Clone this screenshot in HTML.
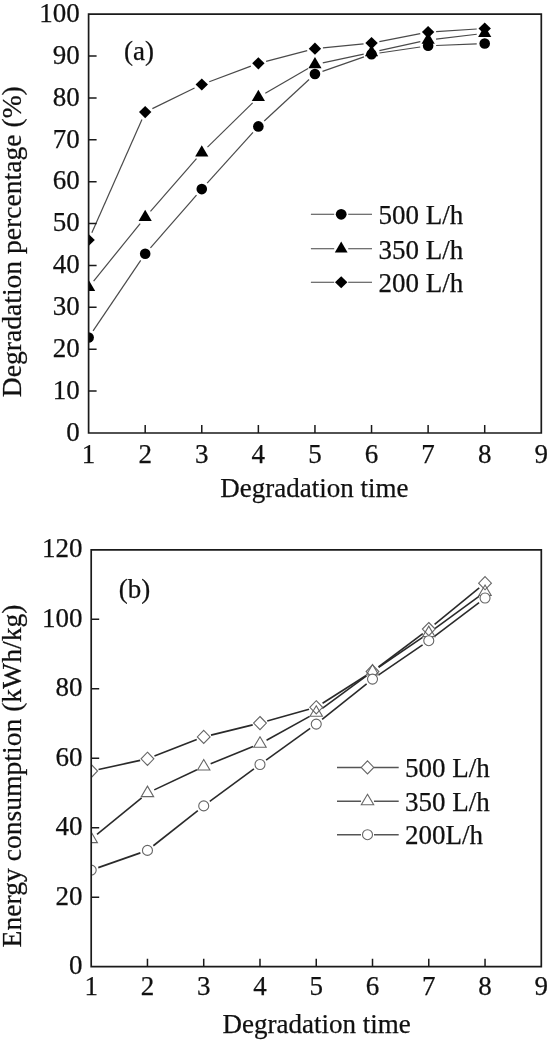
<!DOCTYPE html>
<html><head><meta charset="utf-8"><style>
html,body{margin:0;padding:0;background:#fff;}
body{width:550px;height:1040px;overflow:hidden;}
svg{display:block;filter:blur(0.4px);font-family:"Liberation Serif", serif;font-size:27px;fill:#111;}
svg text{fill:#111;stroke:#111;stroke-width:0.25px;}
</style></head><body>
<svg width="550" height="1040" viewBox="0 0 550 1040">
<defs><clipPath id="ca"><rect x="88.6" y="14.2" width="452.69999999999993" height="418.8"/></clipPath>
<clipPath id="cb"><rect x="91.2" y="549.8" width="450.09999999999997" height="416.9000000000001"/></clipPath></defs>
<g clip-path="url(#ca)">
<line x1="93.08" y1="330.87" x2="140.71" y2="260.43" stroke="#4a4a4a" stroke-width="1.2"/>
<line x1="150.45" y1="247.78" x2="196.51" y2="195.12" stroke="#4a4a4a" stroke-width="1.2"/>
<line x1="207.13" y1="183.16" x2="253.00" y2="132.34" stroke="#4a4a4a" stroke-width="1.2"/>
<line x1="264.23" y1="120.96" x2="309.08" y2="79.44" stroke="#4a4a4a" stroke-width="1.2"/>
<line x1="322.50" y1="71.36" x2="363.99" y2="56.84" stroke="#4a4a4a" stroke-width="1.2"/>
<line x1="379.45" y1="53.03" x2="420.21" y2="46.97" stroke="#4a4a4a" stroke-width="1.2"/>
<line x1="436.12" y1="45.48" x2="476.72" y2="43.82" stroke="#4a4a4a" stroke-width="1.2"/>
<line x1="93.63" y1="281.08" x2="140.16" y2="223.52" stroke="#4a4a4a" stroke-width="1.2"/>
<line x1="150.46" y1="211.28" x2="196.50" y2="158.72" stroke="#4a4a4a" stroke-width="1.2"/>
<line x1="207.49" y1="147.10" x2="252.65" y2="102.90" stroke="#4a4a4a" stroke-width="1.2"/>
<line x1="265.28" y1="93.29" x2="308.03" y2="68.51" stroke="#4a4a4a" stroke-width="1.2"/>
<line x1="322.77" y1="62.83" x2="363.71" y2="54.07" stroke="#4a4a4a" stroke-width="1.2"/>
<line x1="379.35" y1="50.69" x2="420.31" y2="41.71" stroke="#4a4a4a" stroke-width="1.2"/>
<line x1="436.07" y1="39.06" x2="476.77" y2="34.24" stroke="#4a4a4a" stroke-width="1.2"/>
<line x1="91.84" y1="232.68" x2="141.95" y2="119.42" stroke="#4a4a4a" stroke-width="1.2"/>
<line x1="152.38" y1="108.59" x2="194.58" y2="88.01" stroke="#4a4a4a" stroke-width="1.2"/>
<line x1="209.27" y1="81.69" x2="250.87" y2="66.11" stroke="#4a4a4a" stroke-width="1.2"/>
<line x1="266.11" y1="61.30" x2="307.20" y2="50.70" stroke="#4a4a4a" stroke-width="1.2"/>
<line x1="322.91" y1="47.91" x2="363.58" y2="43.89" stroke="#4a4a4a" stroke-width="1.2"/>
<line x1="379.39" y1="41.57" x2="420.27" y2="33.63" stroke="#4a4a4a" stroke-width="1.2"/>
<line x1="436.11" y1="31.59" x2="476.73" y2="29.01" stroke="#4a4a4a" stroke-width="1.2"/>
<circle cx="88.60" cy="337.50" r="5.3" fill="#000"/>
<circle cx="145.19" cy="253.80" r="5.3" fill="#000"/>
<circle cx="201.77" cy="189.10" r="5.3" fill="#000"/>
<circle cx="258.36" cy="126.40" r="5.3" fill="#000"/>
<circle cx="314.95" cy="74.00" r="5.3" fill="#000"/>
<circle cx="371.54" cy="54.20" r="5.3" fill="#000"/>
<circle cx="428.12" cy="45.80" r="5.3" fill="#000"/>
<circle cx="484.71" cy="43.50" r="5.3" fill="#000"/>
<path d="M88.60 279.77L95.20 291.07L82.00 291.07Z" fill="#000"/>
<path d="M145.19 209.77L151.79 221.07L138.59 221.07Z" fill="#000"/>
<path d="M201.77 145.17L208.37 156.47L195.17 156.47Z" fill="#000"/>
<path d="M258.36 89.77L264.96 101.07L251.76 101.07Z" fill="#000"/>
<path d="M314.95 56.97L321.55 68.27L308.35 68.27Z" fill="#000"/>
<path d="M371.54 44.87L378.14 56.17L364.94 56.17Z" fill="#000"/>
<path d="M428.12 32.47L434.73 43.77L421.52 43.77Z" fill="#000"/>
<path d="M484.71 25.77L491.31 37.07L478.11 37.07Z" fill="#000"/>
<path d="M88.60 233.90L94.80 240.00L88.60 246.10L82.40 240.00Z" fill="#000"/>
<path d="M145.19 106.00L151.39 112.10L145.19 118.20L138.99 112.10Z" fill="#000"/>
<path d="M201.77 78.40L207.97 84.50L201.77 90.60L195.57 84.50Z" fill="#000"/>
<path d="M258.36 57.20L264.56 63.30L258.36 69.40L252.16 63.30Z" fill="#000"/>
<path d="M314.95 42.60L321.15 48.70L314.95 54.80L308.75 48.70Z" fill="#000"/>
<path d="M371.54 37.00L377.74 43.10L371.54 49.20L365.34 43.10Z" fill="#000"/>
<path d="M428.12 26.00L434.32 32.10L428.12 38.20L421.93 32.10Z" fill="#000"/>
<path d="M484.71 22.40L490.91 28.50L484.71 34.60L478.51 28.50Z" fill="#000"/>
</g>
<path d="M88.6 14.2H541.3V433.0H88.6Z" fill="none" stroke="#1a1a1a" stroke-width="1.7"/>
<path d="M88.6 391.12h8 M88.6 349.24h8 M88.6 307.36h8 M88.6 265.48h8 M88.6 223.60h8 M88.6 181.72h8 M88.6 139.84h8 M88.6 97.96h8 M88.6 56.08h8 M145.19 433.0v-8 M201.77 433.0v-8 M258.36 433.0v-8 M314.95 433.0v-8 M371.54 433.0v-8 M428.12 433.0v-8 M484.71 433.0v-8" stroke="#1a1a1a" stroke-width="1.5" fill="none"/>
<text x="79.70" y="440.70" text-anchor="end">0</text>
<text x="79.70" y="398.82" text-anchor="end">10</text>
<text x="79.70" y="356.94" text-anchor="end">20</text>
<text x="79.70" y="315.06" text-anchor="end">30</text>
<text x="79.70" y="273.18" text-anchor="end">40</text>
<text x="79.70" y="231.30" text-anchor="end">50</text>
<text x="79.70" y="189.42" text-anchor="end">60</text>
<text x="79.70" y="147.54" text-anchor="end">70</text>
<text x="79.70" y="105.66" text-anchor="end">80</text>
<text x="79.70" y="63.78" text-anchor="end">90</text>
<text x="79.70" y="21.90" text-anchor="end">100</text>
<text x="88.60" y="462.80" text-anchor="middle">1</text>
<text x="145.19" y="462.80" text-anchor="middle">2</text>
<text x="201.77" y="462.80" text-anchor="middle">3</text>
<text x="258.36" y="462.80" text-anchor="middle">4</text>
<text x="314.95" y="462.80" text-anchor="middle">5</text>
<text x="371.54" y="462.80" text-anchor="middle">6</text>
<text x="428.12" y="462.80" text-anchor="middle">7</text>
<text x="484.71" y="462.80" text-anchor="middle">8</text>
<text x="541.30" y="462.80" text-anchor="middle">9</text>
<text x="314.30" y="497.00" text-anchor="middle">Degradation time</text>
<text x="139.00" y="59.70" text-anchor="middle">(a)</text>
<text transform="translate(20.7 241.7) rotate(-90)" text-anchor="middle" font-size="27.6">Degradation percentage (%)</text>
<path d="M310.9 214.3H334.2M348.2 214.3H372" stroke="#444" stroke-width="1.1"/>
<circle cx="341.20" cy="214.30" r="5.4" fill="#000"/>
<text x="378.50" y="224.00" text-anchor="start">500 L/h</text>
<path d="M310.9 248.8H334.2M348.2 248.8H372" stroke="#444" stroke-width="1.1"/>
<path d="M341.20 241.47L347.60 252.47L334.80 252.47Z" fill="#000"/>
<text x="378.50" y="258.50" text-anchor="start">350 L/h</text>
<path d="M310.9 282.3H334.2M348.2 282.3H372" stroke="#444" stroke-width="1.1"/>
<path d="M341.20 276.30L347.40 282.30L341.20 288.30L335.00 282.30Z" fill="#000"/>
<text x="378.50" y="292.00" text-anchor="start">200 L/h</text>
<g clip-path="url(#cb)">
<line x1="98.53" y1="769.41" x2="140.13" y2="760.39" stroke="#2a2a2a" stroke-width="1.6"/>
<line x1="154.45" y1="756.08" x2="196.74" y2="739.62" stroke="#2a2a2a" stroke-width="1.6"/>
<line x1="211.01" y1="735.11" x2="252.70" y2="724.89" stroke="#2a2a2a" stroke-width="1.6"/>
<line x1="267.21" y1="721.07" x2="309.03" y2="709.33" stroke="#2a2a2a" stroke-width="1.6"/>
<line x1="322.58" y1="703.27" x2="366.18" y2="675.53" stroke="#2a2a2a" stroke-width="1.6"/>
<line x1="378.50" y1="666.99" x2="422.79" y2="633.61" stroke="#2a2a2a" stroke-width="1.6"/>
<line x1="434.59" y1="624.36" x2="479.23" y2="587.94" stroke="#2a2a2a" stroke-width="1.6"/>
<line x1="97.01" y1="834.35" x2="141.66" y2="797.85" stroke="#2a2a2a" stroke-width="1.6"/>
<line x1="154.24" y1="789.89" x2="196.94" y2="769.71" stroke="#2a2a2a" stroke-width="1.6"/>
<line x1="210.68" y1="763.69" x2="253.03" y2="746.61" stroke="#2a2a2a" stroke-width="1.6"/>
<line x1="266.56" y1="740.18" x2="309.68" y2="716.42" stroke="#2a2a2a" stroke-width="1.6"/>
<line x1="322.30" y1="708.36" x2="366.47" y2="675.94" stroke="#2a2a2a" stroke-width="1.6"/>
<line x1="378.71" y1="667.27" x2="422.58" y2="637.33" stroke="#2a2a2a" stroke-width="1.6"/>
<line x1="434.83" y1="628.68" x2="478.98" y2="596.42" stroke="#2a2a2a" stroke-width="1.6"/>
<line x1="98.28" y1="867.62" x2="140.38" y2="852.88" stroke="#2a2a2a" stroke-width="1.6"/>
<line x1="153.34" y1="845.75" x2="197.84" y2="810.55" stroke="#2a2a2a" stroke-width="1.6"/>
<line x1="209.77" y1="801.45" x2="253.95" y2="768.95" stroke="#2a2a2a" stroke-width="1.6"/>
<line x1="266.08" y1="760.13" x2="310.16" y2="728.47" stroke="#2a2a2a" stroke-width="1.6"/>
<line x1="322.11" y1="719.42" x2="366.66" y2="683.78" stroke="#2a2a2a" stroke-width="1.6"/>
<line x1="378.71" y1="674.87" x2="422.58" y2="644.93" stroke="#2a2a2a" stroke-width="1.6"/>
<line x1="434.75" y1="636.17" x2="479.06" y2="602.53" stroke="#2a2a2a" stroke-width="1.6"/>
<path d="M91.20 764.40L97.60 771.00L91.20 777.60L84.80 771.00Z" fill="none" stroke="#666" stroke-width="1.1"/>
<path d="M147.46 752.20L153.86 758.80L147.46 765.40L141.06 758.80Z" fill="none" stroke="#666" stroke-width="1.1"/>
<path d="M203.72 730.30L210.12 736.90L203.72 743.50L197.32 736.90Z" fill="none" stroke="#666" stroke-width="1.1"/>
<path d="M259.99 716.50L266.39 723.10L259.99 729.70L253.59 723.10Z" fill="none" stroke="#666" stroke-width="1.1"/>
<path d="M316.25 700.70L322.65 707.30L316.25 713.90L309.85 707.30Z" fill="none" stroke="#666" stroke-width="1.1"/>
<path d="M372.51 664.90L378.91 671.50L372.51 678.10L366.11 671.50Z" fill="none" stroke="#666" stroke-width="1.1"/>
<path d="M428.77 622.50L435.17 629.10L428.77 635.70L422.38 629.10Z" fill="none" stroke="#666" stroke-width="1.1"/>
<path d="M485.04 576.60L491.44 583.20L485.04 589.80L478.64 583.20Z" fill="none" stroke="#666" stroke-width="1.1"/>
<path d="M91.20 832.10L97.40 842.60L85.00 842.60Z" fill="none" stroke="#666" stroke-width="1.1"/>
<path d="M147.46 786.10L153.66 796.60L141.26 796.60Z" fill="none" stroke="#666" stroke-width="1.1"/>
<path d="M203.72 759.50L209.92 770.00L197.53 770.00Z" fill="none" stroke="#666" stroke-width="1.1"/>
<path d="M259.99 736.80L266.19 747.30L253.79 747.30Z" fill="none" stroke="#666" stroke-width="1.1"/>
<path d="M316.25 705.80L322.45 716.30L310.05 716.30Z" fill="none" stroke="#666" stroke-width="1.1"/>
<path d="M372.51 664.50L378.71 675.00L366.31 675.00Z" fill="none" stroke="#666" stroke-width="1.1"/>
<path d="M428.77 626.10L434.97 636.60L422.57 636.60Z" fill="none" stroke="#666" stroke-width="1.1"/>
<path d="M485.04 585.00L491.24 595.50L478.84 595.50Z" fill="none" stroke="#666" stroke-width="1.1"/>
<circle cx="91.20" cy="870.10" r="5.0" fill="#fff" stroke="#666" stroke-width="1.1"/>
<circle cx="147.46" cy="850.40" r="5.0" fill="#fff" stroke="#666" stroke-width="1.1"/>
<circle cx="203.72" cy="805.90" r="5.0" fill="#fff" stroke="#666" stroke-width="1.1"/>
<circle cx="259.99" cy="764.50" r="5.0" fill="#fff" stroke="#666" stroke-width="1.1"/>
<circle cx="316.25" cy="724.10" r="5.0" fill="#fff" stroke="#666" stroke-width="1.1"/>
<circle cx="372.51" cy="679.10" r="5.0" fill="#fff" stroke="#666" stroke-width="1.1"/>
<circle cx="428.77" cy="640.70" r="5.0" fill="#fff" stroke="#666" stroke-width="1.1"/>
<circle cx="485.04" cy="598.00" r="5.0" fill="#fff" stroke="#666" stroke-width="1.1"/>
</g>
<path d="M91.2 549.8H541.3V966.7H91.2Z" fill="none" stroke="#1a1a1a" stroke-width="1.7"/>
<path d="M91.2 897.22h8 M91.2 827.73h8 M91.2 758.25h8 M91.2 688.77h8 M91.2 619.28h8 M147.46 966.7v-8 M203.72 966.7v-8 M259.99 966.7v-8 M316.25 966.7v-8 M372.51 966.7v-8 M428.77 966.7v-8 M485.04 966.7v-8" stroke="#1a1a1a" stroke-width="1.5" fill="none"/>
<text x="82.40" y="974.20" text-anchor="end">0</text>
<text x="82.40" y="904.72" text-anchor="end">20</text>
<text x="82.40" y="835.23" text-anchor="end">40</text>
<text x="82.40" y="765.75" text-anchor="end">60</text>
<text x="82.40" y="696.27" text-anchor="end">80</text>
<text x="82.40" y="626.78" text-anchor="end">100</text>
<text x="82.40" y="557.30" text-anchor="end">120</text>
<text x="91.20" y="995.30" text-anchor="middle">1</text>
<text x="147.46" y="995.30" text-anchor="middle">2</text>
<text x="203.72" y="995.30" text-anchor="middle">3</text>
<text x="259.99" y="995.30" text-anchor="middle">4</text>
<text x="316.25" y="995.30" text-anchor="middle">5</text>
<text x="372.51" y="995.30" text-anchor="middle">6</text>
<text x="428.77" y="995.30" text-anchor="middle">7</text>
<text x="485.04" y="995.30" text-anchor="middle">8</text>
<text x="541.30" y="995.30" text-anchor="middle">9</text>
<text x="316.60" y="1033.30" text-anchor="middle">Degradation time</text>
<text x="134.50" y="598.30" text-anchor="middle">(b)</text>
<text transform="translate(20.7 776) rotate(-90)" text-anchor="middle" font-size="27.6">Energy consumption (kWh/kg)</text>
<path d="M337 767.4H361.0M374.0 767.4H398.7" stroke="#555" stroke-width="1.5"/>
<path d="M367.50 760.90L373.80 767.40L367.50 773.90L361.20 767.40Z" fill="none" stroke="#666" stroke-width="1.1"/>
<text x="405.00" y="776.90" text-anchor="start">500 L/h</text>
<path d="M337 801.3H361.0M374.0 801.3H398.7" stroke="#555" stroke-width="1.5"/>
<path d="M367.50 794.30L373.70 804.80L361.30 804.80Z" fill="none" stroke="#666" stroke-width="1.1"/>
<text x="405.00" y="810.80" text-anchor="start">350 L/h</text>
<path d="M337 834.7H361.0M374.0 834.7H398.7" stroke="#555" stroke-width="1.5"/>
<circle cx="367.50" cy="834.70" r="5.0" fill="none" stroke="#666" stroke-width="1.1"/>
<text x="405.00" y="844.20" text-anchor="start">200L/h</text>
</svg>
</body></html>
